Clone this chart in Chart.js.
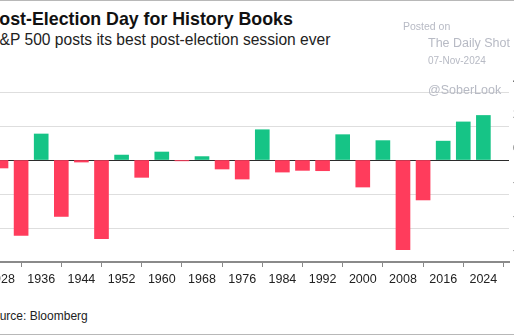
<!DOCTYPE html>
<html lang="en">
<head>
<meta charset="UTF-8">
<title>Post-Election Day for History Books</title>
<script src="https://cdn.jsdelivr.net/npm/chart.js@4.4.0/dist/chart.umd.min.js"></script>
<style>
  html, body { margin: 0; padding: 0; background: #fff; }
  body {
    width: 514px; height: 336px; position: relative; overflow: hidden;
    font-family: "Liberation Sans", Arial, sans-serif;
  }
  .rule { position: absolute; left: 0; width: 514px; height: 1px; background: #b8b8b8; }
  .txt { position: absolute; line-height: 1; white-space: nowrap; }
  .title { left: -12.5px; top: 11px; font-size: 17.8px; font-weight: bold; color: #111; }
  .subtitle { left: -10.8px; top: 32px; font-size: 15.6px; color: #222; }
  .source { left: -15px; top: 310px; font-size: 12px; color: #222; }
  .stamp { color: #b7bac4; z-index: 2; }
  #chartBox { position: absolute; left: 0; top: 0; width: 514px; height: 300px; z-index: 1; }
</style>
</head>
<body>
<div class="rule" style="top:0"></div>
<div class="txt title">Post-Election Day for History Books</div>
<div class="txt subtitle">S&amp;P 500 posts its best post-election session ever</div>

<div id="chartBox"><canvas id="chart" width="514" height="300"></canvas></div>

<div class="txt stamp" style="left:403px; top:21px; font-size:10.5px;">Posted on</div>
<div class="txt stamp" style="left:428px; top:37px; font-size:12.5px;">The Daily Shot</div>
<div class="txt stamp" style="left:428px; top:56px; font-size:10px;">07-Nov-2024</div>
<div class="txt stamp" style="left:428px; top:84px; font-size:12.5px;">@SoberLook</div>

<div class="txt source">Source: Bloomberg</div>
<div class="rule" style="top:334px"></div>

<script>
// S&P 500 change (%) on the session after each US presidential election
const years = [1928, 1932, 1936, 1940, 1944, 1948, 1952, 1956, 1960, 1964, 1968, 1972, 1976,
               1980, 1984, 1988, 1992, 1996, 2000, 2004, 2008, 2012, 2016, 2020, 2024];
const sessionChange = [-0.47, -4.44, 1.53, -3.32, -0.12, -4.63, 0.29, -1.02, 0.47, -0.05, 0.2, -0.53, -1.12,
                       1.78, -0.71, -0.61, -0.63, 1.49, -1.59, 1.14, -5.27, -2.35, 1.11, 2.24, 2.62];
const yearTicks = [1928, 1936, 1944, 1952, 1960, 1968, 1976, 1984, 1992, 2000, 2008, 2016, 2024];
const valueTicks = [-6, -4, -2, 0, 2, 4];

const GREEN = '#16c486';
const RED = '#ff3c5c';

new Chart(document.getElementById('chart'), {
  type: 'bar',
  data: {
    datasets: [{
      data: years.map((yr, i) => ({ x: yr, y: sessionChange[i] })),
      backgroundColor: sessionChange.map(v => v >= 0 ? GREEN : RED),
      borderWidth: 0,
      barThickness: 14
    }]
  },
  options: {
    responsive: false,
    animation: false,
    layout: { padding: { top: 92, left: 0, right: 0, bottom: 0 } },
    plugins: { legend: { display: false }, tooltip: { enabled: false } },
    scales: {
      x: {
        type: 'linear',
        offset: false,
        min: 1927.8,
        max: 2029.1,
        afterBuildTicks: s => { s.ticks = yearTicks.map(v => ({ value: v })); },
        afterFit: s => { s.paddingLeft = 0; s.paddingRight = 0; s.height = 38; },
        grid: { drawOnChartArea: false, drawTicks: true, tickLength: 5, color: '#888', lineWidth: 1 },
        border: { display: true, color: '#8a8a8a', width: 2 },
        ticks: {
          autoSkip: false, maxRotation: 0, padding: 5,
          color: '#222', font: { size: 12.5, family: '"Liberation Sans", Arial, sans-serif' },
          callback: v => String(v)
        }
      },
      y: {
        position: 'right',
        min: -6,
        max: 4,
        afterBuildTicks: s => { s.ticks = valueTicks.map(v => ({ value: v })); },
        afterFit: s => { s.width = 5; s.paddingTop = 0; s.paddingBottom = 0; },
        grid: {
          drawTicks: false,
          lineWidth: 1,
          color: c => (c.tick && c.tick.value === 0) ? '#2b2b2b' : '#dedede'
        },
        border: { display: false },
        ticks: {
          labelOffset: -11, padding: 4,
          color: '#444', font: { size: 12, family: '"Liberation Sans", Arial, sans-serif' }
        }
      }
    }
  }
});
</script>
</body>
</html>
